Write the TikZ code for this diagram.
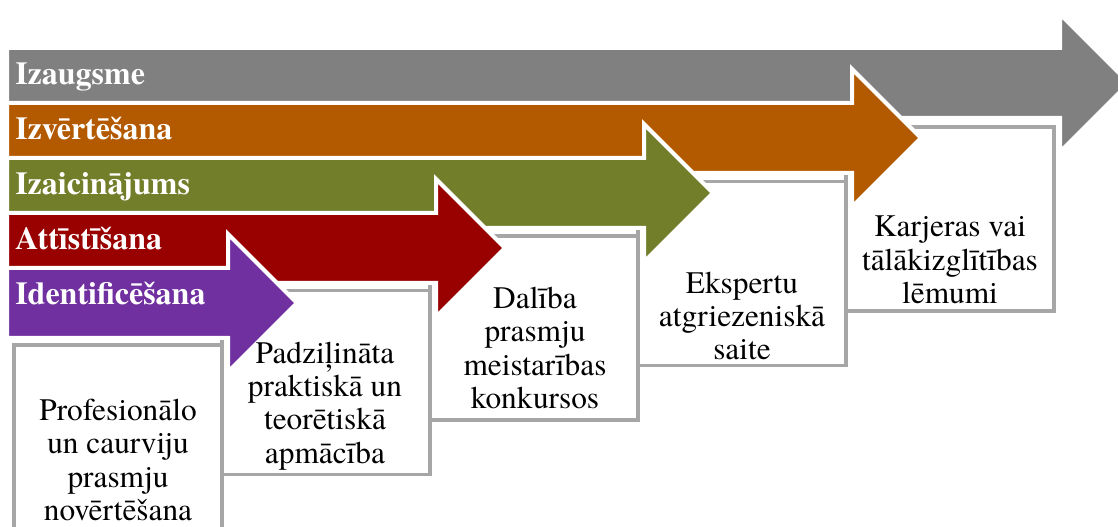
\documentclass[tikz,border=0pt]{standalone}
\usepackage{fontspec}
\newfontfamily\tnr{TeX Gyre Termes}
\definecolor{cgray}{HTML}{808080}
\definecolor{corange}{HTML}{B35900}
\definecolor{cgreen}{HTML}{737E2A}
\definecolor{cred}{HTML}{990000}
\definecolor{cpurple}{HTML}{7030A0}
\definecolor{cborder}{HTML}{A6A6A6}
\tikzset{
  bandarrow/.style={draw=white, line width=3pt, line join=miter},
  bandlabel/.style={anchor=base west, inner sep=0pt, text=white,
    font=\tnr\bfseries\fontsize{24}{26}\selectfont},
  stagebox/.style={draw=cborder, fill=white, line width=2.6pt, inner sep=0pt,
    minimum width=156pt, minimum height=138pt},
  stagetext/.style={align=center, inner sep=0pt,
    font=\tnr\fontsize{23.5}{25}\selectfont}
}
\begin{document}
\begin{tikzpicture}[x=0.75pt,y=-0.75pt]
\useasboundingbox (0,0) rectangle (1118,527);
\fill[white] (0,0) rectangle (1118,527);
\begin{scope}
\clip (0,0) rectangle (1118,527);
% boxes
\node[stagebox] (b1) at (118,437) {};
\node[stagebox] (b2) at (326,382.5) {};
\node[stagebox] (b3) at (534,328) {};
\node[stagebox] (b4) at (742,273.5) {};
\node[stagebox] (b5) at (950,219) {};
% arrows (gray first, purple last)
\path[bandarrow, fill=cgray]   (7,48)  -- (1060,48)  -- (1060,14)  -- (1129,83)  -- (1060,152) -- (1060,118) -- (7,118) -- cycle;
\path[bandarrow, fill=corange] (7,103) -- (852,103) -- (852,69)  -- (921,138) -- (852,207) -- (852,173) -- (7,173) -- cycle;
\path[bandarrow, fill=cgreen]  (7,158) -- (644,158) -- (644,124) -- (713,193) -- (644,262) -- (644,228) -- (7,228) -- cycle;
\path[bandarrow, fill=cred]    (7,213) -- (436,213) -- (436,179) -- (505,248) -- (436,317) -- (436,283) -- (7,283) -- cycle;
\path[bandarrow, fill=cpurple] (7,268) -- (228,268) -- (228,234) -- (297,303) -- (228,372) -- (228,338) -- (7,338) -- cycle;
\end{scope}
% band labels
\node[bandlabel] (l5) at (15,85)  {Izaugsme};
\node[bandlabel] (l4) at (15,140) {Izvērtēšana};
\node[bandlabel] (l3) at (15,195) {Izaicinājums};
\node[bandlabel] (l2) at (15,250) {Attīstīšana};
\node[bandlabel] (l1) at (15,305) {Identificēšana};
% box texts
\node[stagetext] (t1) at (118,460) {Profesionālo\\un caurviju\\prasmju\\novērtēšana};
\node[stagetext] (t2) at (325,406) {Padziļināta\\praktiskā un\\teorētiskā\\apmācība};
\node[stagetext] (t3) at (535,348) {Dalība\\prasmju\\meistarības\\konkursos};
\node[stagetext] (t4) at (742,316) {Ekspertu\\atgriezeniskā\\saite};
\node[stagetext] (t5) at (950,260) {Karjeras vai\\tālākizglītības\\lēmumi};
\end{tikzpicture}
\end{document}
